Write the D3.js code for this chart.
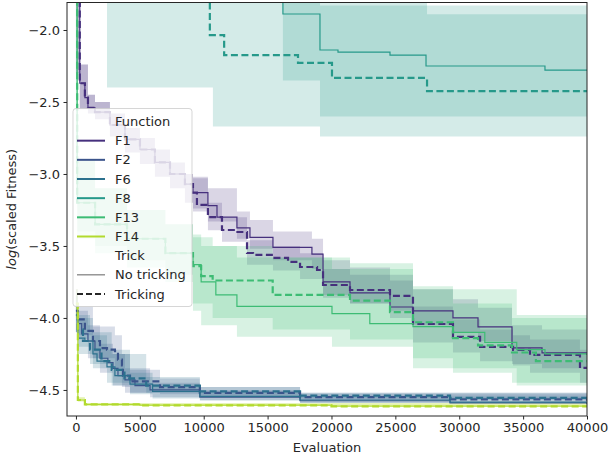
<!DOCTYPE html>
<html>
<head>
<meta charset="utf-8">
<script src="https://cdn.jsdelivr.net/npm/d3@7"></script>
<style>
  body { margin: 0; background: #fff; }
  svg { display: block; }
  text { font-family: "DejaVu Sans", sans-serif; fill: #262626; }
</style>
</head>
<body>
<svg id="chart" width="608" height="460"></svg>
<script>
// ---- data -------------------------------------------------------------
const functions = ["F1", "F2", "F6", "F8", "F13", "F14"];
const tricks = ["No tricking", "Tricking"];
const functionColors = ["#46307d", "#3b548b", "#2c718e", "#26998a", "#3dbc74", "#b2da2e"];
const xTickValues = [0, 5000, 10000, 15000, 20000, 25000, 30000, 35000, 40000];
const yTickValues = [-4.5, -4.0, -3.5, -3.0, -2.5, -2.0];

// mean curves: [evaluation, log(scaled fitness)]
const f1NoTrick = [[0,-1.6],[300,-2.37],[700,-2.47],[940,-2.54],[1490,-2.57],[2660,-2.66],[3840,-2.76],[5010,-2.83],[6180,-2.92],[7360,-3.0],[8530,-3.07],[9160,-3.13],[10330,-3.22],[11040,-3.30],[12600,-3.375],[13620,-3.44],[15420,-3.51],[18470,-3.556],[19340,-3.75],[21450,-3.826],[24580,-3.924],[26380,-3.951],[29510,-4.0],[31470,-4.0625],[34130,-4.208],[36480,-4.243],[40000,-4.257]];
const f1Trick = [[0,-1.6],[300,-2.37],[700,-2.47],[940,-2.54],[1490,-2.57],[2660,-2.66],[3840,-2.76],[5010,-2.83],[6180,-2.92],[7360,-3.0],[8530,-3.07],[9160,-3.13],[9470,-3.215],[10330,-3.30],[11430,-3.389],[12450,-3.403],[13390,-3.549],[13860,-3.5625],[15420,-3.583],[16600,-3.611],[17540,-3.646],[18870,-3.667],[19340,-3.771],[21450,-3.806],[24580,-3.847],[26380,-4.042],[29510,-4.132],[31630,-4.201],[34210,-4.222],[35540,-4.257],[39450,-4.347],[40000,-4.347]];
const f2NoTrick = [[0,-3.95],[150,-4.04],[450,-4.11],[940,-4.16],[1490,-4.22],[1880,-4.28],[2500,-4.31],[2900,-4.35],[3290,-4.40],[3840,-4.43],[4620,-4.47],[5800,-4.50],[9700,-4.55],[17540,-4.575],[29280,-4.59],[40000,-4.60]];
const f2Trick = [[0,-3.95],[150,-4.01],[700,-4.09],[1330,-4.16],[1880,-4.21],[2430,-4.22],[3050,-4.23],[3290,-4.29],[3600,-4.33],[3680,-4.40],[4230,-4.44],[6580,-4.48],[9700,-4.52],[17540,-4.55],[29280,-4.565],[40000,-4.575]];
const f6NoTrick = [[0,-3.98],[150,-4.14],[700,-4.16],[1330,-4.25],[1650,-4.30],[2430,-4.34],[3050,-4.40],[4230,-4.46],[6000,-4.51],[9700,-4.545],[17540,-4.57],[29280,-4.585],[40000,-4.595]];
const f6Trick = [[0,-3.98],[150,-4.08],[550,-4.16],[1100,-4.22],[2000,-4.30],[2800,-4.36],[3800,-4.42],[5500,-4.47],[9700,-4.51],[17540,-4.54],[29280,-4.555],[40000,-4.565]];
const f8NoTrick = [[0,-1.5],[16200,-1.889],[19100,-2.139],[20510,-2.153],[24580,-2.174],[27400,-2.25],[36710,-2.278],[40000,-2.278]];
const f8Trick = [[0,-1.5],[10480,-2.035],[11600,-2.174],[17380,-2.229],[20040,-2.333],[27480,-2.424],[40000,-2.424]];
const f13NoTrick = [[0,-1.5],[100,-3.2],[1500,-3.35],[4000,-3.45],[7000,-3.55],[9160,-3.63],[9800,-3.75],[10950,-3.84],[12600,-3.92],[20040,-3.97],[23000,-4.04],[26380,-4.06],[29510,-4.10],[32000,-4.17],[34500,-4.22],[36710,-4.25],[40000,-4.25]];
const f13Trick = [[0,-1.5],[100,-3.2],[1500,-3.35],[4000,-3.45],[7000,-3.55],[9160,-3.64],[9800,-3.71],[10700,-3.74],[15400,-3.84],[21450,-3.88],[24580,-3.96],[26380,-4.03],[29510,-4.14],[31470,-4.19],[34130,-4.24],[36000,-4.30],[40000,-4.30]];
const f14NoTrick = [[0,-3.9],[150,-4.57],[700,-4.60],[5000,-4.605],[20000,-4.612],[40000,-4.618]];
const f14Trick = [[0,-3.9],[150,-4.57],[700,-4.60],[5000,-4.607],[20000,-4.614],[40000,-4.62]];

// confidence bands: [evaluation, lower, upper]
const f1NoTrickBand = [[0,-2.3,-1.6],[300,-2.55,-2.24],[940,-2.58,-2.45],[1490,-2.62,-2.5],[2660,-2.74,-2.58],[3840,-2.85,-2.68],[5010,-2.93,-2.75],[6180,-3.02,-2.83],[7360,-3.1,-2.92],[8530,-3.2,-3.0],[9160,-3.26,-3.03],[10330,-3.33,-3.1],[12600,-3.45,-3.26],[13620,-3.52,-3.32],[15420,-3.6,-3.4],[18470,-3.66,-3.45],[19340,-3.84,-3.6],[21450,-3.9,-3.65],[24580,-4.0,-3.7],[26380,-4.05,-3.8],[29510,-4.1,-3.87],[31470,-4.16,-3.93],[34130,-4.32,-4.05],[36480,-4.35,-4.08],[40000,-4.35,-4.08]];
const f1TrickBand = [[0,-2.3,-1.6],[300,-2.55,-2.24],[940,-2.58,-2.45],[1490,-2.62,-2.5],[2660,-2.74,-2.58],[3840,-2.85,-2.68],[5010,-2.93,-2.75],[6180,-3.02,-2.83],[7360,-3.1,-2.92],[8530,-3.2,-3.0],[9160,-3.24,-3.02],[10330,-3.39,-3.2],[11430,-3.47,-3.3],[13390,-3.63,-3.46],[15420,-3.67,-3.5],[17540,-3.73,-3.55],[19340,-3.86,-3.66],[21450,-3.9,-3.7],[24580,-3.95,-3.74],[26380,-4.17,-3.92],[29510,-4.24,-4.01],[31630,-4.3,-4.08],[34210,-4.33,-4.12],[35540,-4.38,-4.15],[39450,-4.45,-4.22],[40000,-4.45,-4.22]];
const f2NoTrickBand = [[0,-4.1,-3.8],[150,-4.15,-3.95],[940,-4.28,-4.05],[1880,-4.38,-4.18],[2900,-4.47,-4.25],[3840,-4.52,-4.35],[5800,-4.55,-4.45],[9700,-4.57,-4.5],[17540,-4.59,-4.53],[40000,-4.62,-4.58]];
const f2TrickBand = [[0,-4.1,-3.8],[150,-4.12,-3.92],[1330,-4.28,-4.06],[3050,-4.36,-4.12],[3600,-4.48,-4.25],[4230,-4.52,-4.36],[6580,-4.53,-4.42],[9700,-4.55,-4.48],[17540,-4.57,-4.52],[40000,-4.59,-4.55]];
const f6NoTrickBand = [[0,-4.1,-3.85],[150,-4.25,-4.0],[1330,-4.35,-4.12],[2430,-4.45,-4.22],[4230,-4.53,-4.38],[6000,-4.56,-4.46],[9700,-4.575,-4.51],[17540,-4.59,-4.545],[40000,-4.61,-4.575]];
const f6TrickBand = [[0,-4.1,-3.85],[150,-4.2,-3.98],[1100,-4.32,-4.1],[2800,-4.47,-4.25],[5500,-4.52,-4.41],[9700,-4.54,-4.48],[17540,-4.56,-4.52],[40000,-4.585,-4.545]];
const f8NoTrickBand = [[0,-1.6,-1.5],[16200,-2.35,-1.5],[19100,-2.60,-1.83],[40000,-2.60,-1.83]];
const f8TrickBand = [[0,-1.7,-1.5],[2430,-2.40,-1.5],[10720,-2.67,-1.5],[19100,-2.74,-1.5],[27480,-2.74,-1.89],[40000,-2.74,-1.89]];
const f13NoTrickBand = [[0,-3.0,-1.6],[100,-3.45,-2.9],[1500,-3.55,-3.1],[4000,-3.65,-3.25],[7000,-3.75,-3.35],[9160,-3.95,-3.42],[9800,-4.05,-3.5],[12600,-4.13,-3.58],[20040,-4.2,-3.66],[26380,-4.35,-3.8],[34500,-4.47,-3.98],[40000,-4.47,-3.98]];
const f13TrickBand = [[0,-3.0,-1.6],[100,-3.4,-2.9],[1500,-3.5,-3.1],[4000,-3.6,-3.25],[7000,-3.7,-3.35],[9160,-3.9,-3.44],[10700,-4.0,-3.5],[15400,-4.08,-3.58],[21450,-4.15,-3.62],[26380,-4.28,-3.78],[29510,-4.38,-3.9],[34130,-4.45,-4.0],[40000,-4.45,-4.0]];
const f14NoTrickBand = [[0,-4.0,-3.8],[150,-4.58,-4.55],[700,-4.61,-4.59],[40000,-4.625,-4.61]];
const f14TrickBand = [[0,-4.0,-3.8],[150,-4.58,-4.55],[700,-4.612,-4.592],[40000,-4.628,-4.612]];

const series = [
  { fn: "F1",  trick: "No tricking", line: f1NoTrick,  band: f1NoTrickBand },
  { fn: "F1",  trick: "Tricking",    line: f1Trick,    band: f1TrickBand },
  { fn: "F2",  trick: "No tricking", line: f2NoTrick,  band: f2NoTrickBand },
  { fn: "F2",  trick: "Tricking",    line: f2Trick,    band: f2TrickBand },
  { fn: "F6",  trick: "No tricking", line: f6NoTrick,  band: f6NoTrickBand },
  { fn: "F6",  trick: "Tricking",    line: f6Trick,    band: f6TrickBand },
  { fn: "F8",  trick: "No tricking", line: f8NoTrick,  band: f8NoTrickBand },
  { fn: "F8",  trick: "Tricking",    line: f8Trick,    band: f8TrickBand },
  { fn: "F13", trick: "No tricking", line: f13NoTrick, band: f13NoTrickBand },
  { fn: "F13", trick: "Tricking",    line: f13Trick,   band: f13TrickBand },
  { fn: "F14", trick: "No tricking", line: f14NoTrick, band: f14NoTrickBand },
  { fn: "F14", trick: "Tricking",    line: f14Trick,   band: f14TrickBand }
];

// ---- layout -----------------------------------------------------------
const plot = { left: 67, right: 587, top: 2.5, bottom: 416 };
const fontSize = 13;
const svg = d3.select("#chart");

const x = d3.scaleLinear().domain([-700, 40000]).range([plot.left, plot.right]);
const y = d3.scaleLinear().domain([-4.681, -1.809]).range([plot.bottom, plot.top]);
const color = d3.scaleOrdinal().domain(functions).range(functionColors);
const dashFor = t => t === "Tricking" ? "7,3.5" : null;
const widthFor = t => t === "Tricking" ? 2.2 : 1.2;

svg.append("defs").append("clipPath").attr("id", "plot-clip")
  .append("rect")
  .attr("x", plot.left).attr("y", plot.top)
  .attr("width", plot.right - plot.left).attr("height", plot.bottom - plot.top);

const body = svg.append("g").attr("clip-path", "url(#plot-clip)");

const area = d3.area()
  .x(d => x(d[0])).y0(d => y(d[1])).y1(d => y(d[2]))
  .curve(d3.curveStepAfter);
const line = d3.line()
  .x(d => x(d[0])).y(d => y(d[1]))
  .curve(d3.curveStepAfter);

// confidence bands
body.selectAll("path.band").data(series).join("path")
  .attr("class", "band")
  .attr("d", d => area(d.band))
  .attr("fill", d => color(d.fn))
  .attr("fill-opacity", 0.2)
  .attr("stroke", "none");

// mean curves
body.selectAll("path.mean").data(series).join("path")
  .attr("class", "mean")
  .attr("d", d => line(d.line))
  .attr("fill", "none")
  .attr("stroke", d => color(d.fn))
  .attr("stroke-width", d => widthFor(d.trick))
  .attr("stroke-dasharray", d => dashFor(d.trick));

// ---- axes -------------------------------------------------------------
const xAxis = d3.axisBottom(x).tickValues(xTickValues).tickFormat(d3.format("d"))
  .tickSizeOuter(0).tickSize(3.5).tickPadding(3.5);
const yAxis = d3.axisLeft(y).tickValues(yTickValues).tickFormat(d3.format(".1f"))
  .tickSizeOuter(0).tickSize(3.5).tickPadding(3.5);

const gx = svg.append("g").attr("transform", `translate(0,${plot.bottom})`).call(xAxis);
const gy = svg.append("g").attr("transform", `translate(${plot.left},0)`).call(yAxis);
[gx, gy].forEach(g => {
  g.select(".domain").remove();
  g.selectAll(".tick line").attr("stroke", "#262626").attr("stroke-width", 1);
  g.selectAll(".tick text").attr("font-size", fontSize).attr("font-family", "DejaVu Sans").attr("fill", "#262626");
});

// frame
svg.append("rect")
  .attr("x", plot.left).attr("y", plot.top)
  .attr("width", plot.right - plot.left).attr("height", plot.bottom - plot.top)
  .attr("fill", "none").attr("stroke", "#262626").attr("stroke-width", 1);

svg.append("text")
  .attr("x", (plot.left + plot.right) / 2).attr("y", 452)
  .attr("text-anchor", "middle").attr("font-size", fontSize)
  .text("Evaluation");

const yl = svg.append("text")
  .attr("transform", `translate(16,${(plot.top + plot.bottom) / 2}) rotate(-90)`)
  .attr("text-anchor", "middle").attr("font-size", fontSize);
yl.append("tspan").attr("font-style", "italic").text("log");
yl.append("tspan").text("(scaled Fitness)");

// ---- legend -----------------------------------------------------------
const legendRows = [
  { label: "Function" },
  ...functions.map(f => ({ label: f, stroke: color(f), width: 2, dash: null })),
  { label: "Trick" },
  { label: tricks[0], stroke: "#6f6f6f", width: 1.1, dash: null },
  { label: tricks[1], stroke: "#262626", width: 2.2, dash: "6,3" }
];
const legend = svg.append("g");
legend.append("rect")
  .attr("x", 73).attr("y", 108.5).attr("width", 119).attr("height", 198)
  .attr("rx", 3).attr("fill", "#fff").attr("fill-opacity", 0.8)
  .attr("stroke", "#cccccc").attr("stroke-opacity", 0.8);
const rowY = d3.scaleLinear().domain([0, legendRows.length - 1]).range([121.5, 294]);
legendRows.forEach((r, i) => {
  const yy = rowY(i);
  if (r.stroke) {
    legend.append("line")
      .attr("x1", 77).attr("x2", 105).attr("y1", yy).attr("y2", yy)
      .attr("stroke", r.stroke).attr("stroke-width", r.width)
      .attr("stroke-dasharray", r.dash);
  }
  legend.append("text")
    .attr("x", 115).attr("y", yy).attr("dy", "0.35em")
    .attr("font-size", fontSize)
    .text(r.label);
});
</script>
</body>
</html>
